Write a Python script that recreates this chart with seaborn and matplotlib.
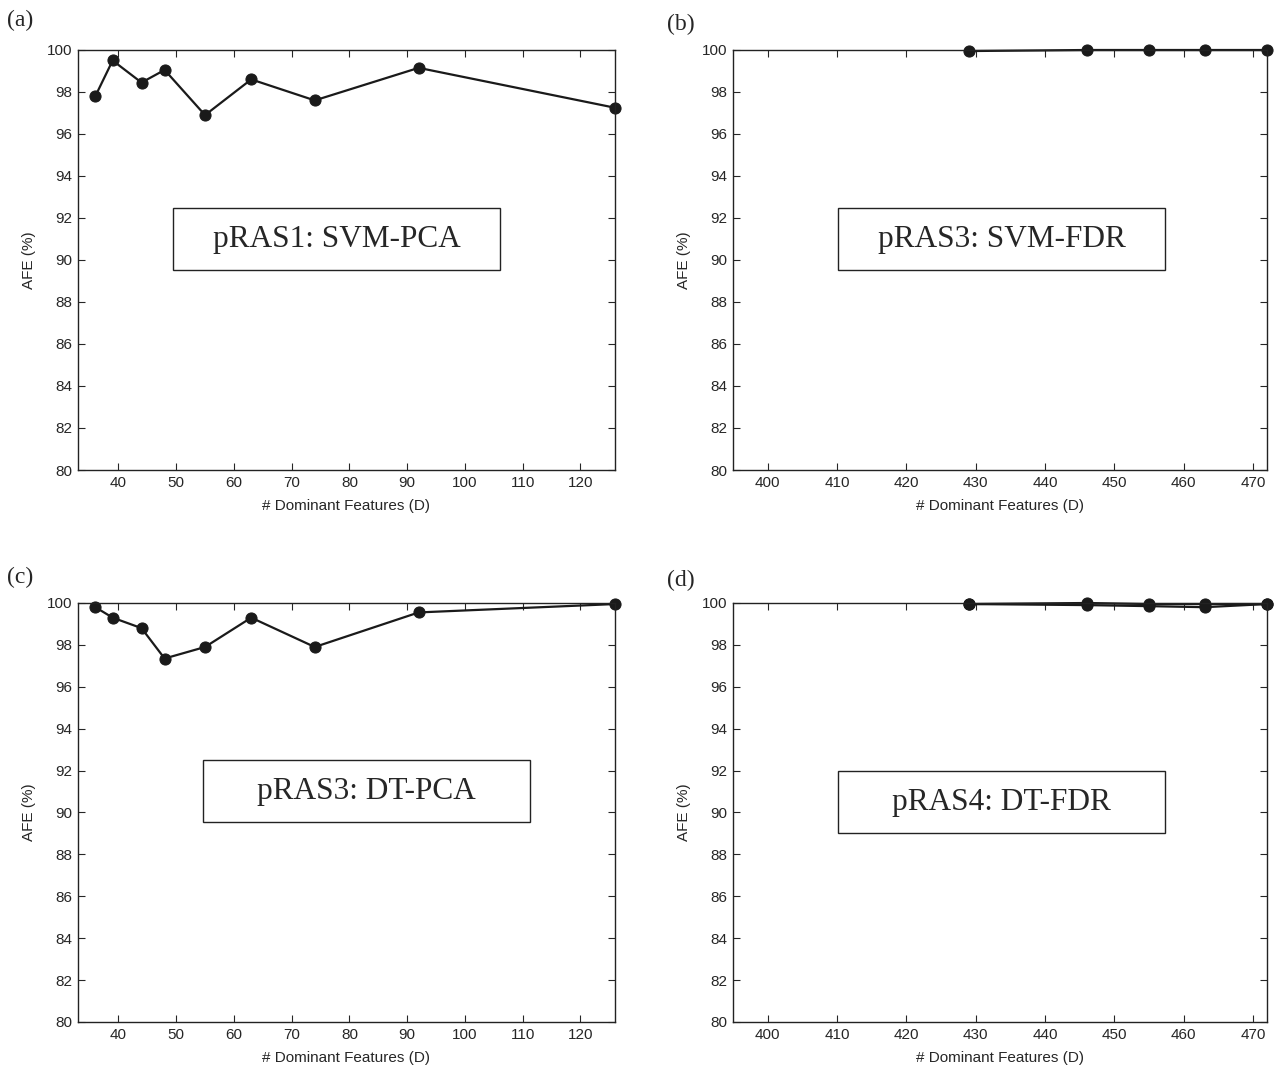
import pandas as pd
import matplotlib
matplotlib.use("Agg")
import matplotlib.pyplot as plt
import seaborn as sns
from matplotlib.patches import Rectangle

# panel (a) / (c): PCA
pca_d = [36, 39, 44, 48, 55, 63, 74, 92, 126]
svm_pca_afe = [97.8, 99.5, 98.45, 99.05, 96.9, 98.6, 97.6, 99.15, 97.25]
dt_pca_afe = [99.8, 99.3, 98.8, 97.35, 97.9, 99.3, 97.9, 99.55, 99.95]

# panel (b) / (d): FDR
fdr_d = [429, 446, 455, 463, 472]
svm_fdr_afe = [99.95, 100.0, 100.0, 100.0, 100.0]
dt_fdr_afe_1 = [99.95, 100.0, 99.95, 99.95, 99.95]
dt_fdr_afe_2 = [99.95, 99.9, 99.85, 99.8, 99.95]

panel_letters = ["(a)", "(b)", "(c)", "(d)"]
box_titles = ["pRAS1: SVM-PCA", "pRAS3: SVM-FDR", "pRAS3: DT-PCA", "pRAS4: DT-FDR"]
y_ticks = list(range(80, 101, 2))
pca_ticks = list(range(40, 121, 10))
fdr_ticks = list(range(400, 471, 10))

sns.set_style("ticks")
plt.rcParams["font.family"] = ["Liberation Sans", "DejaVu Sans"]
plt.rcParams["xtick.direction"] = "in"
plt.rcParams["ytick.direction"] = "in"


def make_df(x, *series):
    rows = []
    for i, ys in enumerate(series):
        for xv, yv in zip(x, ys):
            rows.append({"D": xv, "AFE": yv, "run": i})
    return pd.DataFrame(rows)


fig = plt.figure(figsize=(12.79, 10.68), dpi=100)
W, H = 1279, 1068
# pixel boxes (left, top, right, bottom)
ax_px = [(78, 50, 615, 470), (733, 50, 1267, 470),
         (78, 603, 615, 1022), (733, 603, 1267, 1022)]
box_fr = [(0.177, 0.476, 0.786, 0.624), (0.197, 0.476, 0.809, 0.624),
          (0.233, 0.477, 0.842, 0.625), (0.197, 0.451, 0.809, 0.599)]
letter_px = [(7, 20), (667, 24), (7, 577), (667, 580)]

data = [make_df(pca_d, svm_pca_afe), make_df(fdr_d, svm_fdr_afe),
        make_df(pca_d, dt_pca_afe), make_df(fdr_d, dt_fdr_afe_1, dt_fdr_afe_2)]

for i in range(4):
    l, t, r, b = ax_px[i]
    ax = fig.add_axes([l / W, 1 - b / H, (r - l) / W, (b - t) / H])
    df = data[i]
    sns.lineplot(data=df, x="D", y="AFE", units="run", estimator=None, sort=False,
                 color="#1a1a1a", linewidth=1.6, marker="o", markersize=8,
                 markeredgecolor="#1a1a1a", ax=ax)
    for artist in ax.get_lines():
        artist.set_clip_on(False)
    if i % 2 == 0:
        ax.set_xlim(33, 126)
        ax.set_xticks(pca_ticks)
    else:
        ax.set_xlim(395, 472)
        ax.set_xticks(fdr_ticks)
    ax.set_ylim(80, 100)
    ax.set_yticks(y_ticks)
    ax.tick_params(top=True, right=True, labelsize=11, length=5, width=0.8, pad=4)
    for s in ax.spines.values():
        s.set_linewidth(1.0)
        s.set_color("#222222")
    ax.set_xlabel("# Dominant Features (D)", fontsize=11, labelpad=7)
    ax.set_ylabel("AFE (%)", fontsize=11, labelpad=8)

    x0, y0, x1, y1 = box_fr[i]
    ax.add_patch(Rectangle((x0, y0), x1 - x0, y1 - y0, transform=ax.transAxes,
                           facecolor="white", edgecolor="#222222", linewidth=1.0, zorder=5))
    ax.text((x0 + x1) / 2, (y0 + y1) / 2, box_titles[i], transform=ax.transAxes,
            ha="center", va="center", fontsize=22.5, zorder=6,
            family=["Liberation Serif", "DejaVu Serif"])

    lx, ly = letter_px[i]
    fig.text(lx / W, 1 - ly / H, panel_letters[i], ha="left", va="center",
             fontsize=17, family=["Liberation Serif", "DejaVu Serif"])

fig.savefig("out.png", dpi=100)
